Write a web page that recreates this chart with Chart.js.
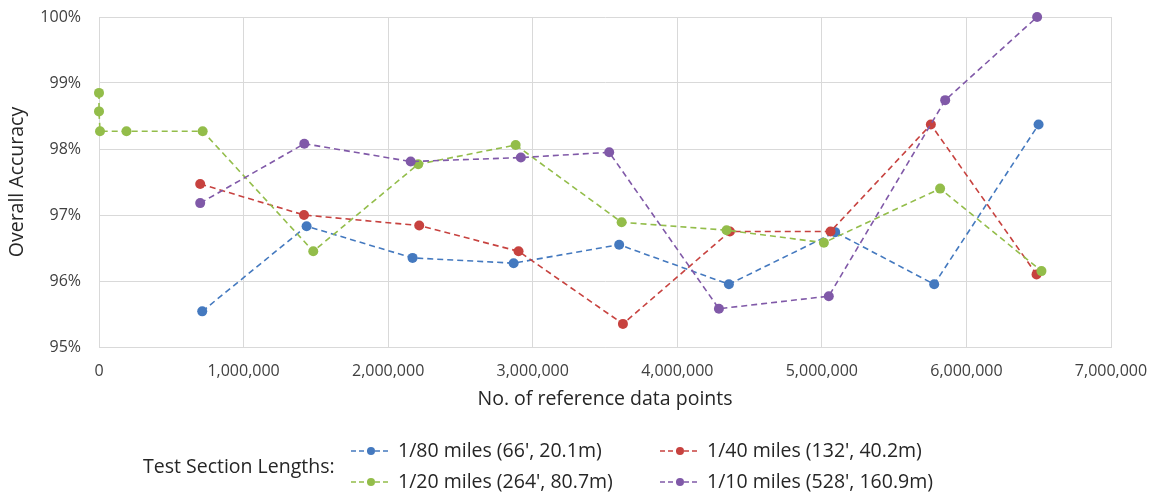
<!DOCTYPE html>
<html>
<head>
<meta charset="utf-8">
<script src="https://cdn.jsdelivr.net/npm/chart.js@4.4.1/dist/chart.umd.min.js"></script>
<style>
  html, body { margin: 0; padding: 0; background: #ffffff; }
  canvas { display: block; }
</style>
</head>
<body>
<canvas id="chart" width="1156" height="494"></canvas>
<script>
// Series labels (test section lengths)
const seriesLabels = [
  "1/80 miles (66', 20.1m)",
  "1/40 miles (132', 40.2m)",
  "1/20 miles (264', 80.7m)",
  "1/10 miles (528', 160.9m)"
];
const legendTitle = "Test Section Lengths:";

// Number of reference data points and overall accuracy (%) per series
const x80 = [714000, 1436000, 2169000, 2868000, 3598000, 4357000, 5092000, 5777000, 6499000];
const y80 = [95.54, 96.83, 96.35, 96.27, 96.55, 95.95, 96.74, 95.95, 98.37];

const x40 = [700000, 1418000, 2215000, 2902000, 3624000, 4364000, 5060000, 5754000, 6485000];
const y40 = [97.47, 97.00, 96.84, 96.45, 95.35, 96.75, 96.75, 98.37, 96.10];

const x20 = [0, 0, 7000, 190000, 717000, 1482000, 2208000, 2882000, 3615000, 4341000, 5014000, 5818000, 6519000];
const y20 = [98.85, 98.57, 98.27, 98.27, 98.27, 96.45, 97.77, 98.06, 96.89, 96.77, 96.58, 97.40, 96.15];

const x10 = [700000, 1420000, 2156000, 2918000, 3529000, 4288000, 5048000, 5853000, 6489000];
const y10 = [97.18, 98.08, 97.81, 97.87, 97.95, 95.58, 95.77, 98.74, 100.00];

// Axis ticks
const xTicks = [0, 1000000, 2000000, 3000000, 4000000, 5000000, 6000000, 7000000];
const yTicks = [95, 96, 97, 98, 99, 100];

const colors = ['#4479bf', '#c7423f', '#93bd4a', '#8059a8'];
const xs = [x80, x40, x20, x10];
const ys = [y80, y40, y20, y10];

const datasets = seriesLabels.map((label, i) => ({
  label,
  data: xs[i].map((x, k) => ({ x, y: ys[i][k] })),
  showLine: true,
  borderColor: colors[i],
  backgroundColor: colors[i],
  pointBackgroundColor: colors[i],
  pointBorderColor: colors[i],
  pointRadius: 5,
  pointBorderWidth: 0,
  borderWidth: 1.6,
  borderDash: [6, 4],
  clip: false,
  order: seriesLabels.length - i   // later series drawn on top
}));

const FONT = '"Open Sans", "DejaVu Sans", sans-serif';
const TEXT = '#404040';
const DARK = '#262626';
const GRID = '#d9d9d9';

// Two-column legend with a leading title, drawn under the axis title
const sectionLegend = {
  id: 'sectionLegend',
  afterDraw(chart) {
    const ctx = chart.ctx;
    const colX = [351, 660];
    const rowY = [451, 482];
    ctx.save();
    ctx.font = '19.5px ' + FONT;
    ctx.textBaseline = 'middle';
    ctx.textAlign = 'left';
    ctx.fillStyle = DARK;
    ctx.fillText(legendTitle, 143, 467);
    chart.data.datasets.forEach((ds, i) => {
      const x = colX[i % 2];
      const y = rowY[Math.floor(i / 2)];
      ctx.strokeStyle = ds.borderColor;
      ctx.lineWidth = 1.5;
      ctx.setLineDash([5, 3]);
      ctx.beginPath();
      ctx.moveTo(x, y);
      ctx.lineTo(x + 40, y);
      ctx.stroke();
      ctx.setLineDash([]);
      ctx.fillStyle = ds.pointBackgroundColor;
      ctx.beginPath();
      ctx.arc(x + 20, y, 4, 0, Math.PI * 2);
      ctx.fill();
      ctx.fillStyle = DARK;
      ctx.fillText(ds.label, x + 47, y);
    });
    ctx.restore();
  }
};

Chart.defaults.font.family = FONT;
Chart.defaults.color = TEXT;

new Chart(document.getElementById('chart'), {
  type: 'scatter',
  data: { datasets },
  plugins: [sectionLegend],
  options: {
    responsive: false,
    animation: false,
    layout: { padding: { left: 0, top: 17, right: 45, bottom: 80 } },
    plugins: {
      legend: { display: false },
      tooltip: { enabled: false }
    },
    scales: {
      x: {
        type: 'linear',
        min: xTicks[0],
        max: xTicks[xTicks.length - 1],
        afterBuildTicks(scale) { scale.ticks = xTicks.map(v => ({ value: v })); },
        afterFit(scale) {
          scale.height = 67;
          scale.paddingLeft = 0;
          scale.paddingRight = 0;
        },
        ticks: {
          padding: 15,
          maxRotation: 0,
          font: { size: 16 },
          color: TEXT,
          callback: v => v.toLocaleString('en-US')
        },
        grid: { color: GRID, lineWidth: 1, drawTicks: false },
        border: { color: GRID },
        title: {
          display: true,
          text: 'No. of reference data points',
          font: { size: 19.5 },
          color: DARK,
          padding: { top: 4, bottom: 3 }
        }
      },
      y: {
        min: yTicks[0],
        max: yTicks[yTicks.length - 1],
        afterBuildTicks(scale) { scale.ticks = yTicks.map(v => ({ value: v })); },
        afterFit(scale) {
          scale.width = 99;
          scale.paddingTop = 0;
          scale.paddingBottom = 0;
        },
        ticks: {
          padding: 18,
          font: { size: 16 },
          color: TEXT,
          callback: v => v + '%'
        },
        grid: { color: GRID, lineWidth: 1, drawTicks: false },
        border: { color: GRID },
        title: {
          display: true,
          text: 'Overall Accuracy',
          font: { size: 19.5 },
          color: DARK,
          padding: { top: 6, bottom: 4 }
        }
      }
    }
  }
});
</script>
</body>
</html>
